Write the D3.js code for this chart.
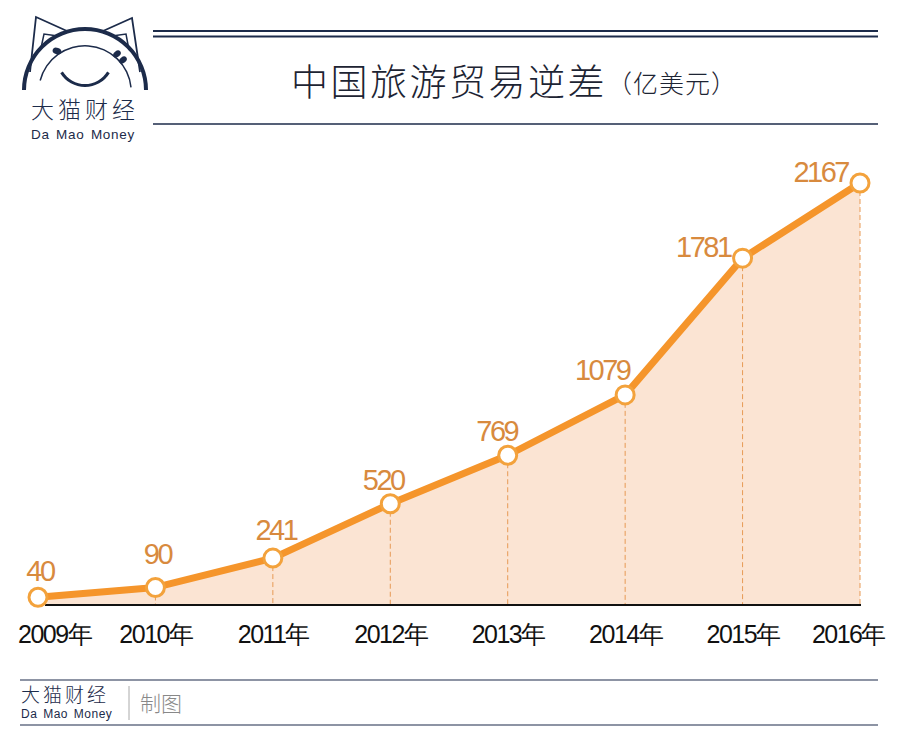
<!DOCTYPE html>
<html><head><meta charset="utf-8">
<script src="https://cdn.jsdelivr.net/npm/d3@7"></script>
<style>body{margin:0;background:#fff}svg{display:block}</style>
</head><body>
<svg id="c" width="900" height="750"></svg>
<script>
const years = ["2009","2010","2011","2012","2013","2014","2015","2016"];
const yearLabels = ["2009年","2010年","2011年","2012年","2013年","2014年","2015年","2016年"];
const values = [40, 90, 241, 520, 769, 1079, 1781, 2167];
const title = "中国旅游贸易逆差";
const unit = "（亿美元）";

const svg = d3.select("#c");
const navy = "#1c2b4a";
const orange = "#f5952b";
const labelColor = "#d88a3e";
const fillColor = "#fbe4d3";

// ---- header ----
svg.append("line").attr("x1",153).attr("x2",878).attr("y1",31).attr("y2",31).attr("stroke",navy).attr("stroke-width",2.2);
svg.append("line").attr("x1",153).attr("x2",878).attr("y1",36.5).attr("y2",36.5).attr("stroke",navy).attr("stroke-width",2.2);
svg.append("line").attr("x1",153).attr("x2",878).attr("y1",124).attr("y2",124).attr("stroke",navy).attr("stroke-width",1.4);
const t = svg.append("text").attr("x",291).attr("y",96).attr("fill","#1d2433")
  .style("font-family","'Noto Sans CJK SC'").style("font-weight",300);
t.append("tspan").text(title).style("font-size","37px").attr("letter-spacing","2.5");
t.append("tspan").text(unit).style("font-size","25px").attr("dy",-3).attr("letter-spacing","1");

// ---- logo ----
const logo = svg.append("g");
logo.append("path").attr("d", d3.arc()({innerRadius:59,outerRadius:63,startAngle:-Math.PI/2,endAngle:Math.PI/2}))
  .attr("transform","translate(85,90)").attr("fill",navy);
logo.append("path").attr("d", d3.arc()({innerRadius:45.5,outerRadius:47,startAngle:-Math.PI/2+0.25,endAngle:Math.PI/2-0.1}))
  .attr("transform","translate(85,92)").attr("fill",navy);
logo.append("path").attr("d", d3.arc()({innerRadius:26,outerRadius:29,startAngle:Math.PI/2+0.55,endAngle:Math.PI*1.5-0.55}))
  .attr("transform","translate(85,58)").attr("fill",navy);
// ears
logo.append("path").attr("d","M30,72 L36,17 L67,31").attr("fill","none").attr("stroke",navy).attr("stroke-width",1.8);
logo.append("path").attr("d","M41,48 L44,34 L58,36").attr("fill","none").attr("stroke",navy).attr("stroke-width",1.5);
logo.append("path").attr("d","M140,72 L132,18 L103,31").attr("fill","none").attr("stroke",navy).attr("stroke-width",1.8);
logo.append("path").attr("d","M129,50 L126,34 L112,36").attr("fill","none").attr("stroke",navy).attr("stroke-width",1.5);
// eyes
logo.append("ellipse").attr("cx",57).attr("cy",51).attr("rx",4.5).attr("ry",3.3).attr("transform","rotate(20,57,51)").attr("fill",navy);
logo.append("ellipse").attr("cx",117).attr("cy",54).attr("rx",4.2).attr("ry",3).attr("transform","rotate(-40,117,54)").attr("fill",navy);
logo.append("ellipse").attr("cx",123).attr("cy",60).attr("rx",4.2).attr("ry",3).attr("transform","rotate(-40,123,60)").attr("fill",navy);
logo.append("text").attr("x",31).attr("y",118).text("大猫财经").attr("fill",navy)
  .style("font-family","'Noto Sans CJK SC'").style("font-size","23px").style("font-weight",300).attr("letter-spacing","4");
logo.append("text").attr("x",31).attr("y",139).text("Da Mao Money").attr("fill",navy)
  .style("font-family","'Liberation Sans',Arial").style("font-size","13.5px").attr("letter-spacing","0.7").attr("word-spacing","2");

// ---- chart ----
const x = d3.scalePoint().domain(years).range([38, 860]);
const y = d3.scaleLinear().domain([0, 2167]).range([605, 183]);
const data = years.map((yr,i)=>({yr, v:values[i], label:yearLabels[i]}));

svg.append("path").datum(data)
  .attr("d", d3.area().x(d=>x(d.yr)).y0(y(0)).y1(d=>y(d.v)))
  .attr("fill", fillColor);

svg.selectAll(".drop").data(data.slice(1)).join("line")
  .attr("x1",d=>x(d.yr)).attr("x2",d=>x(d.yr)).attr("y1",d=>y(d.v)).attr("y2",y(0))
  .attr("stroke","#e79a55").attr("stroke-width",1).attr("stroke-dasharray","5,3");

// x axis
const ax = svg.append("g").attr("transform",`translate(0,${y(0)})`)
  .call(d3.axisBottom(x).tickSize(0).tickPadding(26).tickFormat((d,i)=>yearLabels[i]));
ax.select(".domain").attr("d", `M45,0H861`).attr("stroke","#111").attr("stroke-width",2);
ax.selectAll("text").attr("fill","#111").style("font-family","'Liberation Sans',Arial")
  .style("font-size","25px").attr("letter-spacing","-1.5").attr("dy","0")
  .each(function(){
    const n=this; const w=n.getComputedTextLength(); const tr=d3.select(n.parentNode);
    const m=/translate\(([-\d.]+)/.exec(tr.attr("transform")); const cx=+m[1];
    let c=cx; if(c-w/2<18) c=18+w/2; if(c+w/2>885) c=885-w/2;
    d3.select(n).attr("x", c-cx).attr("y", 38);
  });

svg.append("path").datum(data)
  .attr("d", d3.line().x(d=>x(d.yr)).y(d=>y(d.v)))
  .attr("fill","none").attr("stroke",orange).attr("stroke-width",7).attr("stroke-linejoin","round");

svg.selectAll(".pt").data(data).join("circle")
  .attr("cx",d=>x(d.yr)).attr("cy",d=>y(d.v)).attr("r",9)
  .attr("fill","#fff").attr("stroke","#f3a23c").attr("stroke-width",3);

// value labels (layout offsets)
const lblDx = [2, 2, 3, -7, -11, -23, -12, -12];
const lblDy = [-16, -23, -18, -14, -14, -15, -1, -1];
const lblAnchor = ["middle","middle","middle","middle","middle","middle","end","end"];
svg.selectAll(".val").data(data).join("text")
  .attr("x",(d,i)=>x(d.yr)+lblDx[i]).attr("y",(d,i)=>y(d.v)+lblDy[i])
  .attr("text-anchor",(d,i)=>lblAnchor[i])
  .text(d=>d.v).attr("fill",labelColor)
  .style("font-family","'Liberation Sans',Arial").style("font-size","29px").attr("letter-spacing","-2.5");

// ---- footer ----
svg.append("line").attr("x1",20).attr("x2",878).attr("y1",680).attr("y2",680).attr("stroke",navy).attr("stroke-width",1.2);
svg.append("line").attr("x1",20).attr("x2",878).attr("y1",725).attr("y2",725).attr("stroke",navy).attr("stroke-width",1.2);
svg.append("text").attr("x",21).attr("y",702).text("大猫财经").attr("fill",navy)
  .style("font-family","'Noto Sans CJK SC'").style("font-size","19px").style("font-weight",300).attr("letter-spacing","3");
svg.append("text").attr("x",21).attr("y",718).text("Da Mao Money").attr("fill",navy)
  .style("font-family","'Liberation Sans',Arial").style("font-size","12px").attr("letter-spacing","0.5").attr("word-spacing","2");
svg.append("line").attr("x1",129).attr("x2",129).attr("y1",686).attr("y2",720).attr("stroke","#aaa").attr("stroke-width",1);
svg.append("text").attr("x",140).attr("y",711).text("制图").attr("fill","#888")
  .style("font-family","'Noto Sans CJK SC'").style("font-size","21px").style("font-weight",300);
</script>
</body></html>
